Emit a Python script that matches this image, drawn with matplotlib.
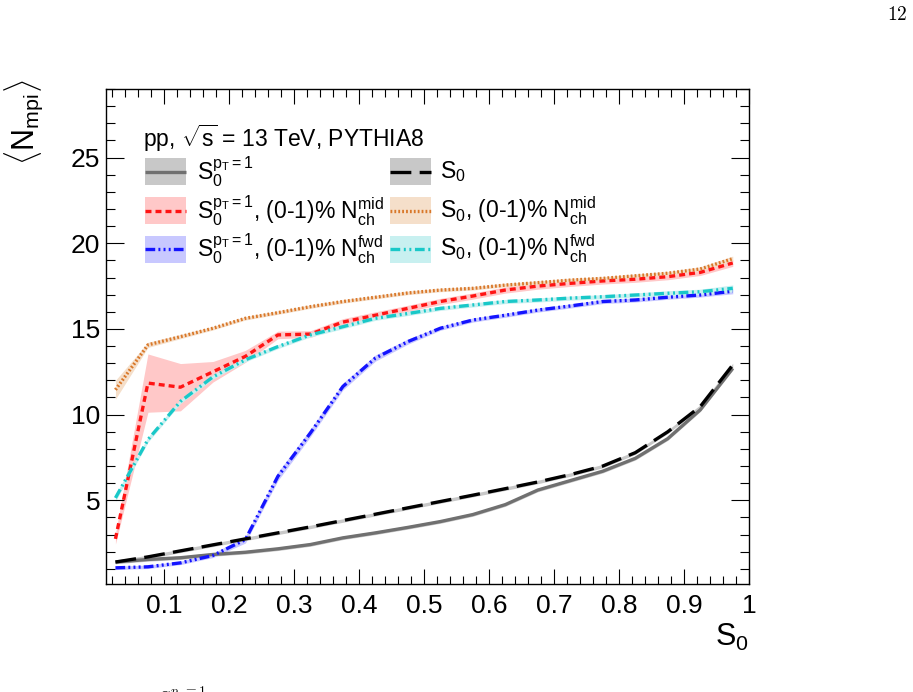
import matplotlib
matplotlib.use("Agg")
import matplotlib.pyplot as plt
from matplotlib.patches import Rectangle
from matplotlib.lines import Line2D
from matplotlib.ticker import MultipleLocator, FixedLocator, FixedFormatter

plt.rcParams['font.family'] = ['Liberation Sans', 'DejaVu Sans']
plt.rcParams['mathtext.fontset'] = 'custom'
plt.rcParams['mathtext.rm'] = 'Liberation Sans'
plt.rcParams['mathtext.it'] = 'Liberation Sans:italic'
plt.rcParams['mathtext.bf'] = 'Liberation Sans:bold'
plt.rcParams['lines.scale_dashes'] = False

# ---------------- data ----------------
s0 = [0.025, 0.075, 0.125, 0.175, 0.225, 0.275, 0.325, 0.375, 0.425, 0.475,
      0.525, 0.575, 0.625, 0.675, 0.725, 0.775, 0.825, 0.875, 0.925, 0.975]

# S0^{pT=1}, minimum bias (gray solid)
gray_y = [1.40, 1.55, 1.65, 1.84, 1.97, 2.17, 2.42, 2.81, 3.10, 3.42,
          3.76, 4.17, 4.75, 5.60, 6.15, 6.70, 7.45, 8.60, 10.28, 12.70]
gray_e = [0.10] * 20
# S0, minimum bias (black long dash)
black_y = [1.40, 1.70, 2.05, 2.40, 2.75, 3.10, 3.45, 3.82, 4.19, 4.56,
           4.93, 5.30, 5.68, 6.07, 6.50, 7.00, 7.78, 9.00, 10.47, 12.90]
black_e = [0.10] * 20
# S0^{pT=1}, (0-1)% Nch mid (red dashed)
red_y = [2.75, 11.84, 11.60, 12.50, 13.40, 14.65, 14.70, 15.40, 15.80, 16.20,
         16.60, 16.92, 17.27, 17.50, 17.66, 17.80, 17.90, 18.05, 18.30, 18.85]
red_e = [0.30, 1.70, 1.38, 0.60, 0.35, 0.22, 0.20, 0.20, 0.20, 0.18,
         0.18, 0.18, 0.18, 0.18, 0.18, 0.18, 0.18, 0.18, 0.18, 0.20]
# S0, (0-1)% Nch mid (orange dotted)
orange_y = [11.45, 14.07, 14.55, 15.04, 15.62, 15.95, 16.30, 16.60, 16.85, 17.10,
            17.27, 17.37, 17.56, 17.70, 17.85, 17.95, 18.10, 18.25, 18.50, 19.10]
orange_e = [0.55, 0.15, 0.12, 0.10, 0.10, 0.10, 0.10, 0.10, 0.10, 0.10,
            0.10, 0.10, 0.10, 0.10, 0.10, 0.10, 0.10, 0.10, 0.12, 0.15]
# S0^{pT=1}, (0-1)% Nch fwd (blue dash-dot-dot-dot)
blue_y = [1.06, 1.12, 1.35, 1.78, 2.71, 6.40, 8.93, 11.64, 13.30, 14.26,
          15.04, 15.52, 15.80, 16.10, 16.34, 16.60, 16.69, 16.85, 16.98, 17.20]
blue_e = [0.10, 0.10, 0.10, 0.12, 0.20, 0.25, 0.22, 0.20, 0.18, 0.15,
          0.12, 0.12, 0.12, 0.12, 0.12, 0.12, 0.12, 0.12, 0.12, 0.15]
# S0, (0-1)% Nch fwd (cyan dash-dot-dot)
cyan_y = [5.14, 8.54, 10.77, 12.20, 13.20, 13.97, 14.65, 15.13, 15.62, 15.90,
          16.20, 16.40, 16.60, 16.69, 16.80, 16.88, 16.98, 17.08, 17.17, 17.37]
cyan_e = [0.20, 0.15, 0.12, 0.12, 0.12, 0.12, 0.12, 0.12, 0.12, 0.12,
          0.12, 0.12, 0.12, 0.12, 0.12, 0.12, 0.12, 0.15, 0.15, 0.20]

x_ticks = [0.1, 0.2, 0.3, 0.4, 0.5, 0.6, 0.7, 0.8, 0.9, 1.0]
x_tick_labels = ['0.1', '0.2', '0.3', '0.4', '0.5', '0.6', '0.7', '0.8', '0.9', '1']
y_ticks = [5, 10, 15, 20, 25]
y_tick_labels = ['5', '10', '15', '20', '25']

# ---------------- styles ----------------
series = [
    dict(y=gray_y, e=gray_e, color='#707070', band='#c8c8c8', ls='-',
         label=r'$\mathregular{S_0^{p_T=1}}$'),
    dict(y=red_y, e=red_e, color='#ff1414', band='#ffc8c8', ls=(0, (4.3, 2.9)),
         label=r'$\mathregular{S_0^{p_T=1}}$, (0-1)% $\mathregular{N_{ch}^{mid}}$'),
    dict(y=blue_y, e=blue_e, color='#1414ff', band='#c8c8ff',
         ls=(0, (7, 2.3, 1.4, 2.3, 1.4, 2.3, 1.4, 2.3)),
         label=r'$\mathregular{S_0^{p_T=1}}$, (0-1)% $\mathregular{N_{ch}^{fwd}}$'),
    dict(y=black_y, e=black_e, color='#000000', band='#c8c8c8', ls=(0, (15, 6)),
         label=r'$\mathregular{S_0}$'),
    dict(y=orange_y, e=orange_e, color='#d9782a', band='#f5dfca', ls=(0, (1.3, 1.5)),
         label=r'$\mathregular{S_0}$, (0-1)% $\mathregular{N_{ch}^{mid}}$'),
    dict(y=cyan_y, e=cyan_e, color='#19c8c8', band='#c8f0f0',
         ls=(0, (7, 2.6, 1.4, 2.6, 1.4, 2.6)),
         label=r'$\mathregular{S_0}$, (0-1)% $\mathregular{N_{ch}^{fwd}}$'),
]

W, H = 913, 692
fig = plt.figure(figsize=(W / 100, H / 100), dpi=100)
ax_l, ax_r, ax_t, ax_b = 105.7, 749, 89, 584.3
ax = fig.add_axes([ax_l / W, 1 - ax_b / H, (ax_r - ax_l) / W, (ax_b - ax_t) / H])

lw = 2.4
# bands first
for s in series:
    lo = [v - e for v, e in zip(s['y'], s['e'])]
    hi = [v + e for v, e in zip(s['y'], s['e'])]
    ax.fill_between(s0, lo, hi, color=s['band'], lw=0, zorder=1)
for s in series:
    ax.plot(s0, s['y'], color=s['color'], ls=s['ls'], lw=lw, zorder=3,
            solid_capstyle='butt', dash_capstyle='butt')

ax.set_xlim(0.01, 1.0)
ax.set_ylim(0.1, 29.0)
ax.xaxis.set_major_locator(FixedLocator(x_ticks))
ax.xaxis.set_major_formatter(FixedFormatter(x_tick_labels))
ax.xaxis.set_minor_locator(MultipleLocator(0.02))
ax.yaxis.set_major_locator(FixedLocator(y_ticks))
ax.yaxis.set_major_formatter(FixedFormatter(y_tick_labels))
ax.yaxis.set_minor_locator(MultipleLocator(1))

ax.tick_params(axis='both', which='both', direction='in', top=True, right=True,
               width=0.8, colors='black')
ax.tick_params(axis='x', which='major', length=11, pad=7, labelsize=19)
ax.tick_params(axis='x', which='minor', length=5.5)
ax.tick_params(axis='y', which='major', length=13, pad=4, labelsize=19)
ax.tick_params(axis='y', which='minor', length=6.5)
for sp in ax.spines.values():
    sp.set_linewidth(1.0)

# axis titles
fig.text(ax_r / W, 1 - 622 / H, r'$\mathregular{S_0}$', ha='right', va='top', fontsize=22)
fig.text(24 / W, 1 - 80 / H, r'$\langle\mathregular{N_{mpi}}\rangle$', ha='center',
         va='top', rotation=90, fontsize=22)

# header text
fig.text(143 / W, 1 - 146.7 / H, r'pp, $\sqrt{\mathregular{s}}$ = 13 TeV, PYTHIA8',
         ha='left', va='baseline', fontsize=16.5)

# legend (manual, two columns)
rows_y = [171.7, 210.7, 249.3]
cols = [(145, 186, 196.7), (390, 431, 440)]
box_h = 27
for i, s in enumerate(series):
    c = cols[i // 3]
    ry = rows_y[i % 3]
    x0, x1, xt = c
    rect = Rectangle((x0 / W, 1 - (ry + box_h / 2) / H), (x1 - x0) / W, box_h / H,
                     transform=fig.transFigure, facecolor=s['band'], edgecolor='none')
    fig.patches.append(rect)
    fig.add_artist(Line2D([x0 / W, x1 / W], [1 - ry / H, 1 - ry / H], transform=fig.transFigure,
                          color=s['color'], ls=s['ls'], lw=lw, solid_capstyle='butt',
                          dash_capstyle='butt'))
    fig.text(xt / W, 1 - ry / H, s['label'], ha='left', va='center', fontsize=16.5)

# page number and cut-off caption fragment (from the source page)
fig.text(907 / W, 1 - 20 / H, r'$\mathrm{12}$', ha='right', va='baseline', fontsize=14,
         math_fontfamily='cm')
fig.text(156 / W, 1 - 706 / H, r'$S_0^{p_T=1}$', ha='left', va='baseline', fontsize=14,
         math_fontfamily='cm')

fig.savefig('out.png', dpi=100)
